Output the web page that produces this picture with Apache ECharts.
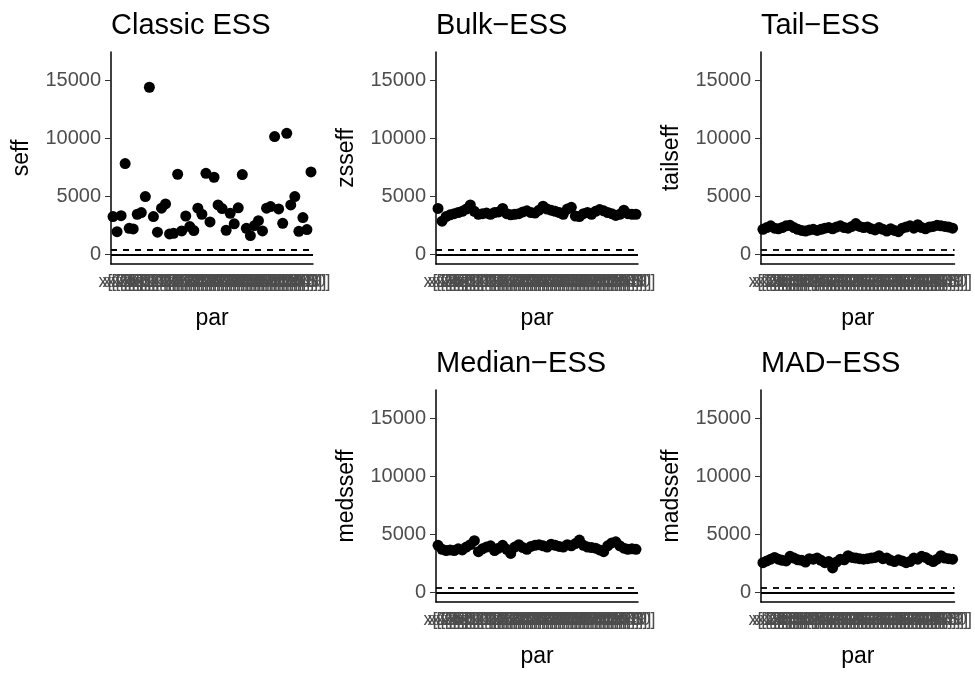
<!DOCTYPE html>
<html>
<head>
<meta charset="utf-8">
<script src="https://cdn.jsdelivr.net/npm/echarts@6.0.0/dist/echarts.min.js"></script>
<style>
  html, body { margin: 0; padding: 0; background: #fff; }
  #chart { width: 975px; height: 675px; }
</style>
</head>
<body>
<div id="chart"></div>
<script>
// parameter names x[1] .. x[50]
const pars = [];
for (let i = 1; i <= 50; i++) pars.push("x[" + i + "]");

const seff = [3250, 1950, 3330, 7820, 2240, 2180, 3450, 3590, 4970, 14400,
    3250, 1900, 3970, 4340, 1750, 1810, 6900, 2010, 3300, 2390,
    2040, 3970, 3450, 6980, 2790, 6640, 4250, 3940, 2070, 3530,
    2620, 4000, 6870, 2240, 1610, 2470, 2900, 2010, 3970, 4110,
    10150, 3910, 2670, 10430, 4250, 4970, 1980, 3160, 2130, 7100];

const zsseff = [3950, 2850, 3250, 3400, 3500, 3600, 3700, 3900, 4250, 3700,
    3450, 3500, 3550, 3450, 3600, 3650, 3950, 3500, 3400, 3450,
    3500, 3650, 3750, 3600, 3550, 3800, 4150, 3900, 3800, 3700,
    3600, 3450, 3900, 4050, 3300, 3250, 3500, 3600, 3450, 3700,
    3850, 3750, 3600, 3500, 3350, 3450, 3800, 3500, 3450, 3450];

const tailseff = [2150, 2300, 2450, 2250, 2200, 2300, 2450, 2500, 2300, 2150,
    2050, 2000, 2100, 2150, 2050, 2150, 2250, 2300, 2200, 2350,
    2450, 2300, 2250, 2400, 2650, 2400, 2300, 2350, 2200, 2100,
    2300, 2150, 2000, 2200, 2050, 1950, 2250, 2350, 2450, 2250,
    2550, 2300, 2200, 2350, 2400, 2500, 2450, 2400, 2350, 2250];

const medsseff = [4050, 3700, 3600, 3650, 3600, 3750, 3650, 3900, 4100, 4450,
    3500, 3750, 3900, 4000, 3600, 3800, 4050, 3700, 3350, 3900,
    4100, 3850, 3700, 3950, 4050, 4100, 4000, 3900, 4150, 4050,
    3950, 3900, 4100, 4000, 4200, 4500, 4050, 3900, 3850, 3800,
    3650, 3500, 4000, 4250, 4350, 4000, 3800, 3700, 3750, 3700];

const madsseff = [2550, 2700, 2850, 3000, 2850, 2750, 2700, 3100, 2950, 2800,
    2750, 2600, 2900, 2850, 2950, 2750, 2550, 2650, 2100, 2600,
    2850, 2800, 3150, 3000, 2950, 2900, 2850, 2900, 2950, 3000,
    3150, 2900, 2950, 2750, 2650, 2800, 2700, 2550, 2650, 2950,
    2850, 3100, 3000, 2800, 2650, 2850, 3150, 2950, 2900, 2850];

const yTicks = [0, 5000, 10000, 15000];
const threshold = 400;

const FONT = "Liberation Sans";

const panels = [
    { title: "Classic ESS", yname: "seff", data: seff, left: 111, top: 52 },
    { title: "Bulk\u2212ESS", yname: "zsseff", data: zsseff, left: 436, top: 52 },
    { title: "Tail\u2212ESS", yname: "tailseff", data: tailseff, left: 761, top: 52 },
    { title: "Median\u2212ESS", yname: "medsseff", data: medsseff, left: 436, top: 390 },
    { title: "MAD\u2212ESS", yname: "madsseff", data: madsseff, left: 761, top: 390 }
];

const W = 202, H = 212;

var chart = echarts.init(document.getElementById("chart"), null, { renderer: "canvas" });

chart.setOption({
    animation: false,
    backgroundColor: "#ffffff",
    title: panels.map(p => ({
        text: p.title,
        left: p.left,
        top: p.top - 41,
        padding: 0,
        textStyle: { fontFamily: FONT, fontSize: 29, fontWeight: "normal", color: "#000" }
    })),
    grid: panels.map(p => ({ left: p.left, top: p.top, width: W, height: H })),
    xAxis: panels.map((p, i) => ({
        type: "category",
        gridIndex: i,
        data: pars,
        name: "par",
        nameLocation: "middle",
        nameGap: 43,
        nameTextStyle: { fontFamily: FONT, fontSize: 23, color: "#000" },
        axisLine: { onZero: false, lineStyle: { color: "#000", width: 1.5 } },
        axisTick: { interval: 0, alignWithLabel: true, length: 4, lineStyle: { color: "#333", width: 1 } },
        axisLabel: { interval: 0, hideOverlap: false, margin: 9, fontFamily: FONT, fontSize: 18, color: "#4D4D4D" },
        splitLine: { show: false }
    })),
    yAxis: panels.map((p, i) => ({
        type: "value",
        gridIndex: i,
        min: -840,
        max: 17440,
        name: p.yname,
        nameLocation: "middle",
        nameGap: 78,
        nameTextStyle: { fontFamily: FONT, fontSize: 23, color: "#000" },
        axisLine: { show: true, lineStyle: { color: "#000", width: 1.5 } },
        axisTick: { show: true, customValues: yTicks, length: 6, lineStyle: { color: "#333", width: 1 } },
        axisLabel: {
            customValues: yTicks,
            margin: 10,
            fontFamily: FONT,
            fontSize: 20,
            color: "#4D4D4D",
            formatter: v => String(v)
        },
        splitLine: { show: false }
    })),
    series: panels.map((p, i) => ({
        type: "scatter",
        xAxisIndex: i,
        yAxisIndex: i,
        data: p.data,
        symbol: "circle",
        symbolSize: 11,
        itemStyle: { color: "#000", opacity: 1 },
        markLine: {
            silent: true,
            symbol: "none",
            label: { show: false },
            data: [
                { yAxis: 0, lineStyle: { type: "solid", color: "#000", width: 2 } },
                { yAxis: threshold, lineStyle: { type: [6, 6], color: "#000", width: 1.8 } }
            ]
        }
    }))
});
</script>
</body>
</html>
